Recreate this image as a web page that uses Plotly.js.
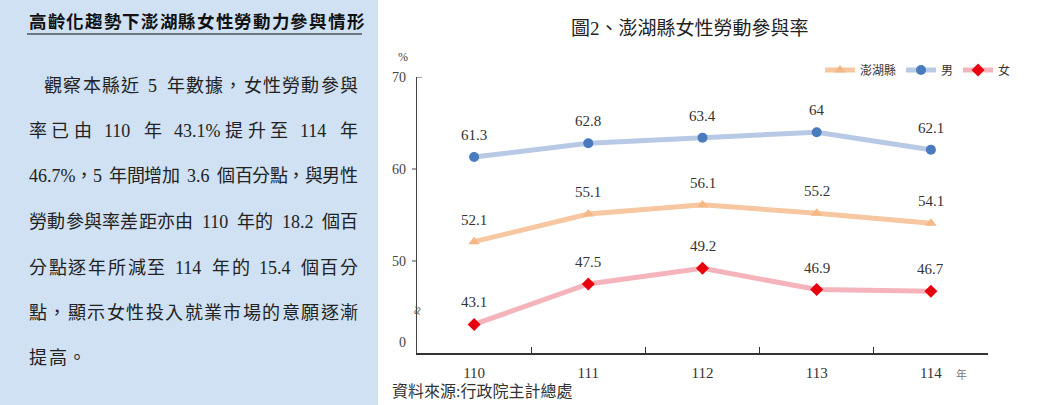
<!DOCTYPE html>
<html>
<head>
<meta charset="utf-8">
<script src="https://cdn.plot.ly/plotly-3.0.1.min.js"></script>
<style>
html,body{margin:0;padding:0;background:#fff;}
#chart{width:1063px;height:405px;}
</style>
</head>
<body>
<div id="chart"></div>
<script>
// ---- data ----
const years = ['110', '111', '112', '113', '114'];
const seriesNames = ['澎湖縣', '男', '女'];
const penghu = [52.1, 55.1, 56.1, 55.2, 54.1];
const male = [61.3, 62.8, 63.4, 64, 62.1];
const female = [43.1, 47.5, 49.2, 46.9, 46.7];
const yTickVals = [41.2, 50, 60, 70];
const yTickText = ['0', '50', '60', '70'];
const breakAt = 44.6;

const chartTitle = '圖2、澎湖縣女性勞動參與率';
const sourceText = '資料來源:行政院主計總處';
const panelTitle = '高齡化趨勢下澎湖縣女性勞動力參與情形';
const panelLines = [
  '觀察本縣近 5 年數據，女性勞動參與',
  '率已由 110 年 43.1%提升至 114 年',
  '46.7%，5 年間增加 3.6 個百分點，與男性',
  '勞動參與率差距亦由 110 年的 18.2 個百',
  '分點逐年所減至 114 年的 15.4 個百分',
  '點，顯示女性投入就業市場的意願逐漸',
  '提高。'
];

// ---- geometry helpers (pixel -> paper) ----
const W = 1063, H = 405;
const L = 417, R = 75, T = 77, B = 52;
const PW = W - L - R, PH = H - T - B;
const px = x => (x - L) / PW;
const py = y => (H - B - y) / PH;

const serif = "'Liberation Serif', 'Noto Sans CJK TC', serif";
const cjk = "'Liberation Serif', 'Noto Sans CJK TC', serif";

const styles = [
  {line: '#f6c7a0', marker: '#f4b887', symbol: 'triangle-up', size: 10},
  {line: '#b8c9e6', marker: '#4a7bbd', symbol: 'circle', size: 10},
  {line: '#f5b3bb', marker: '#e8000f', symbol: 'diamond', size: 10}
];
const values = [penghu, male, female];

const traces = values.map((v, k) => ({
  type: 'scatter',
  mode: 'lines+markers',
  name: seriesNames[k],
  x: years,
  y: v,
  line: {color: styles[k].line, width: 5},
  marker: {color: styles[k].marker, symbol: styles[k].symbol, size: styles[k].size},
  hoverinfo: 'x+y'
}));

const annotations = [];
values.forEach(v => {
  v.forEach((val, i) => {
    annotations.push({
      x: i, y: val, xref: 'x', yref: 'y',
      text: String(val), showarrow: false, yshift: 22,
      font: {family: serif, size: 15, color: '#333'}
    });
  });
});

// chart title
annotations.push({xref: 'paper', yref: 'paper', x: px(690), y: py(28), xanchor: 'center', yanchor: 'middle',
  text: chartTitle, showarrow: false, font: {family: cjk, size: 19, color: '#222'}});
// % and 年
annotations.push({xref: 'paper', yref: 'paper', x: px(403), y: py(57), xanchor: 'center', yanchor: 'middle',
  text: '%', showarrow: false, font: {family: serif, size: 12, color: '#444'}});
annotations.push({xref: 'paper', yref: 'paper', x: px(961), y: py(374), xanchor: 'center', yanchor: 'middle',
  text: '年', showarrow: false, font: {family: cjk, size: 11, color: '#777'}});
// source
annotations.push({xref: 'paper', yref: 'paper', x: px(390), y: py(391), xanchor: 'left', yanchor: 'middle',
  text: sourceText, showarrow: false, font: {family: cjk, size: 16, color: '#333'}});
// break mark
annotations.push({xref: 'paper', yref: 'y', x: 0, y: breakAt, xanchor: 'center', yanchor: 'middle',
  text: '≈', showarrow: false, textangle: -80, font: {family: serif, size: 15, color: '#444'}});

// ---- justified text for left panel ----
const latinW = {'0': .5, '1': .5, '2': .5, '3': .5, '4': .5, '5': .5, '6': .5, '7': .5, '8': .5, '9': .5,
  '.': .25, '%': .833, ',': .25, ':': .278};
function tokenize(str) {
  const toks = [];
  let run = '', spaces = 0, runSp = 0;
  for (const ch of str) {
    if (ch === ' ') {
      if (run) { toks.push({t: run, latin: true, sp: runSp}); run = ''; }
      spaces++; continue;
    }
    if (ch.charCodeAt(0) < 128) {
      if (!run) { runSp = spaces; spaces = 0; }
      run += ch; continue;
    }
    if (run) { toks.push({t: run, latin: true, sp: runSp}); run = ''; }
    toks.push({t: ch, latin: false, sp: spaces}); spaces = 0;
  }
  if (run) toks.push({t: run, latin: true, sp: runSp});
  return toks;
}
function placeLine(str, x0, x1, yPix, fs, bold, justify, color) {
  const toks = tokenize(str);
  const spaceW = 0.45 * fs;
  const widths = toks.map(o => o.latin ? [...o.t].reduce((s, c) => s + (latinW[c] || .5) * fs, 0) : fs);
  const natural = widths.reduce((a, b) => a + b, 0) + toks.reduce((a, o) => a + o.sp * spaceW, 0);
  const gap = justify && toks.length > 1 ? (x1 - x0 - natural) / (toks.length - 1) : 1.5;
  let x = x0;
  toks.forEach((o, i) => {
    x += o.sp * spaceW;
    annotations.push({xref: 'paper', yref: 'paper', x: px(x), y: py(yPix), xanchor: 'left', yanchor: 'middle',
      text: bold ? '<b>' + o.t + '</b>' : o.t, showarrow: false,
      font: {family: cjk, size: fs, color: color}});
    x += widths[i] + gap;
  });
}
placeLine(panelTitle, 27, 362, 22, 17.5, true, true, '#111');
const lineYs = [86, 131, 176, 222, 268, 313, 358];
panelLines.forEach((t, i) => {
  placeLine(t, i === 0 ? 42 : 27, 356, lineYs[i], 18, false, i < panelLines.length - 1, '#222');
});

const shapes = [
  {type: 'rect', xref: 'paper', yref: 'paper', x0: px(0), x1: px(378), y0: py(H), y1: py(0),
   fillcolor: '#cfe1f3', line: {width: 0}, layer: 'below'},
  {type: 'line', xref: 'paper', yref: 'paper', x0: px(27), x1: px(362), y0: py(34), y1: py(34),
   line: {color: '#111', width: 1.2}},
  // y ticks
  {type: 'line', xref: 'paper', yref: 'y', x0: 0, x1: px(L + 5), y0: yTickVals[3], y1: yTickVals[3], line: {color: '#444', width: 1}},
  {type: 'line', xref: 'paper', yref: 'y', x0: px(L - 5), x1: 0, y0: yTickVals[2], y1: yTickVals[2], line: {color: '#444', width: 1}},
  {type: 'line', xref: 'paper', yref: 'y', x0: px(L - 5), x1: 0, y0: yTickVals[1], y1: yTickVals[1], line: {color: '#444', width: 1}}
];

const layout = {
  width: W, height: H, autosize: false,
  margin: {l: L, r: R, t: T, b: B, pad: 0},
  paper_bgcolor: '#ffffff', plot_bgcolor: '#ffffff',
  showlegend: true,
  legend: {orientation: 'h', x: px(820), y: py(70), xanchor: 'left', yanchor: 'middle',
    font: {family: cjk, size: 12, color: '#333'}, itemwidth: 30, bgcolor: 'rgba(0,0,0,0)', tracegroupgap: 0},
  xaxis: {type: 'category', range: [-0.5, 4.5], showline: true, linecolor: '#333', linewidth: 1.5,
    ticks: 'inside', tickson: 'boundaries', ticklen: 6, tickcolor: '#333', tickwidth: 1.2,
    showgrid: false, zeroline: false, fixedrange: true, ticklabelstandoff: 5,
    tickfont: {family: serif, size: 15, color: '#333'}},
  yaxis: {range: [40, 70], showline: true, linecolor: '#444', linewidth: 1.2,
    tickvals: yTickVals, ticktext: yTickText, ticks: '', showgrid: false, zeroline: false,
    fixedrange: true, ticklabelstandoff: 7,
    tickfont: {family: serif, size: 14, color: '#444'}},
  annotations: annotations,
  shapes: shapes
};

Plotly.newPlot('chart', traces, layout, {displayModeBar: false, staticPlot: true});
</script>
</body>
</html>
